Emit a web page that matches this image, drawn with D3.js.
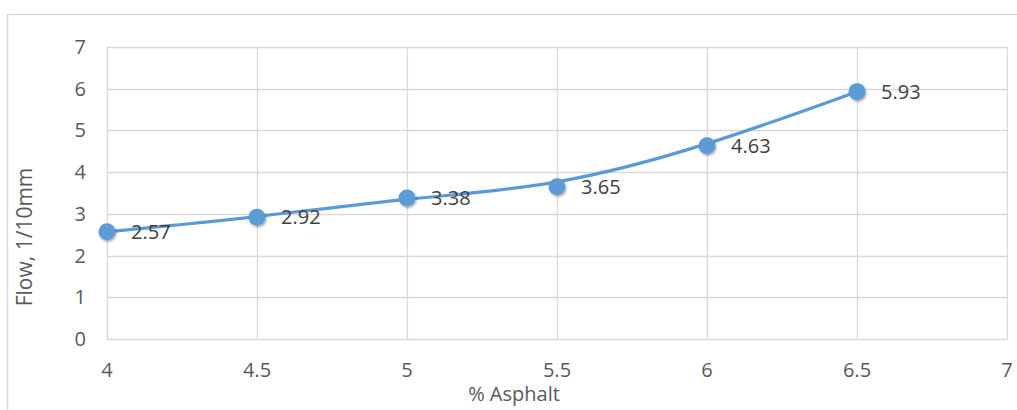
<!DOCTYPE html>
<html>
<head>
<meta charset="utf-8">
<script src="https://cdn.jsdelivr.net/npm/d3@7"></script>
<style>
  html, body { margin: 0; padding: 0; background: #fff; }
  svg { display: block; font-family: "Open Sans", "Noto Sans", sans-serif; }
</style>
</head>
<body>
<svg id="chart" width="1017" height="410"></svg>
<script>
// Flow versus asphalt content
const asphalt = [4, 4.5, 5, 5.5, 6, 6.5];
const flow = [2.57, 2.92, 3.38, 3.65, 4.63, 5.93];
const xTicks = [4, 4.5, 5, 5.5, 6, 6.5, 7];
const yTicks = [0, 1, 2, 3, 4, 5, 6, 7];

const svg = d3.select("#chart");
const margin = { left: 107, right: 10, top: 47, bottom: 71 };
const W = 1017, H = 410;

// Chart-area frame
svg.append("rect")
  .attr("x", 7.5).attr("y", 14.5)
  .attr("width", W + 10).attr("height", H + 10)
  .attr("fill", "none").attr("stroke", "#d9d9d9").attr("stroke-width", 1.5);

const x = d3.scaleLinear().domain([4, 7]).range([margin.left, W - margin.right]);
const y = d3.scaleLinear().domain([0, 7]).range([H - margin.bottom, margin.top]);

const grid = svg.append("g").attr("stroke", "#d9d9d9").attr("stroke-width", 1.3);
grid.selectAll("line.h").data(yTicks).join("line")
  .attr("x1", x(4)).attr("x2", x(7))
  .attr("y1", d => Math.round(y(d)) + 0.5).attr("y2", d => Math.round(y(d)) + 0.5);
grid.selectAll("line.v").data(xTicks).join("line")
  .attr("y1", y(0)).attr("y2", y(7))
  .attr("x1", d => Math.round(x(d)) + 0.5).attr("x2", d => Math.round(x(d)) + 0.5);

// Tick labels
svg.append("g").selectAll("text").data(yTicks).join("text")
  .attr("x", 86).attr("y", d => y(d)).attr("dy", "0.35em")
  .attr("text-anchor", "end").attr("font-size", 20).attr("fill", "#595959")
  .text(d => d);
svg.append("g").selectAll("text").data(xTicks).join("text")
  .attr("x", d => x(d)).attr("y", 377)
  .attr("text-anchor", "middle").attr("font-size", 20).attr("fill", "#595959")
  .text(d => d);

// Axis titles
svg.append("text")
  .attr("transform", "translate(32,237) rotate(-90)")
  .attr("text-anchor", "middle").attr("font-size", 21).attr("fill", "#595959")
  .text("Flow, 1/10mm");
svg.append("text")
  .attr("x", 514).attr("y", 401)
  .attr("text-anchor", "middle").attr("font-size", 20).attr("fill", "#595959")
  .text("% Asphalt");

const pts = asphalt.map((a, i) => [a, flow[i]]);

// Soft shadow for markers
const defs = svg.append("defs");
const f = defs.append("filter").attr("id", "shadow").attr("x", "-50%").attr("y", "-50%").attr("width", "200%").attr("height", "200%");
f.append("feDropShadow").attr("dx", 1).attr("dy", 1.5).attr("stdDeviation", 1.2)
  .attr("flood-color", "#000").attr("flood-opacity", 0.35);

// Smoothed series line
const line = d3.line().x(d => x(d[0])).y(d => y(d[1])).curve(d3.curveBasis);
svg.append("path").datum(pts)
  .attr("d", line).attr("fill", "none")
  .attr("stroke", "#5b9bd5").attr("stroke-width", 3.2).attr("stroke-linecap", "round");

svg.append("g").selectAll("circle").data(pts).join("circle")
  .attr("cx", d => x(d[0])).attr("cy", d => y(d[1])).attr("r", 8.5)
  .attr("fill", "#5b9bd5").attr("filter", "url(#shadow)");

// Data labels
svg.append("g").selectAll("text").data(pts).join("text")
  .attr("x", d => x(d[0]) + 24).attr("y", d => y(d[1]) + 7)
  .attr("font-size", 20).attr("fill", "#404040")
  .text(d => d[1].toFixed(2));
</script>
</body>
</html>
